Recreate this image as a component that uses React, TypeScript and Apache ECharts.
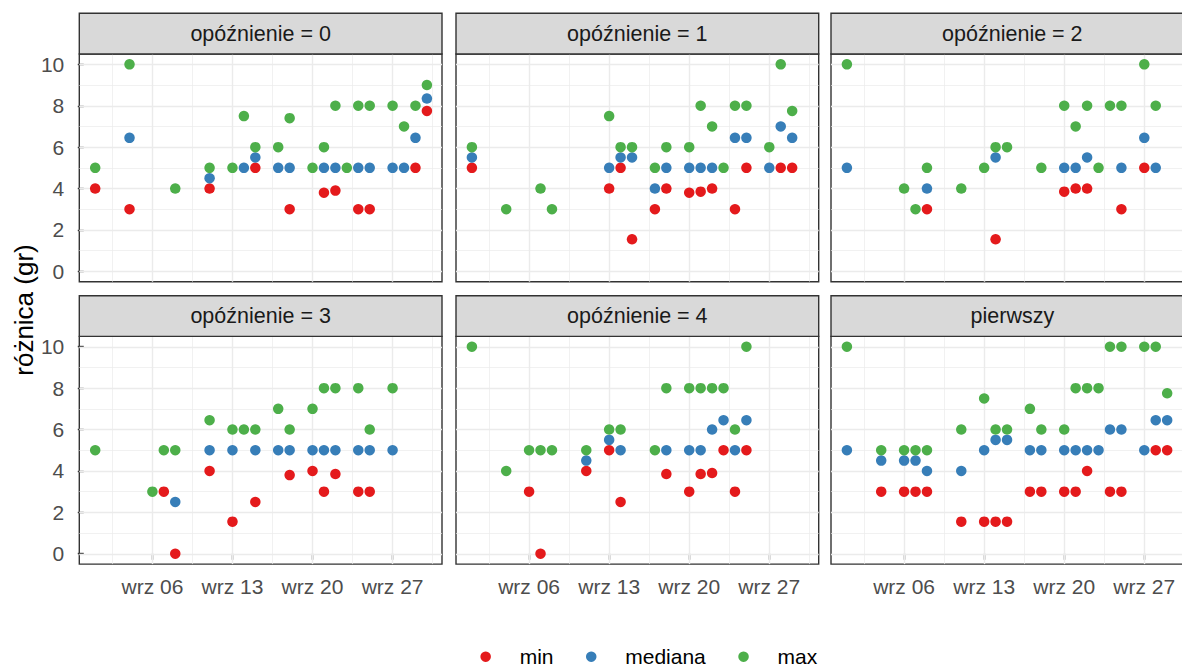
import React, { useEffect, useRef } from 'react';
import * as echarts from 'echarts';

// ---------- data ----------
const PANEL_TITLES = ['opóźnienie = 0', 'opóźnienie = 1', 'opóźnienie = 2', 'opóźnienie = 3', 'opóźnienie = 4', 'pierwszy'];
const SERIES_NAMES = ['min', 'mediana', 'max'];
const SERIES_COLORS = ['#E41A1C', '#377EB8', '#4DAF4A'];

const X_TICK_DAYS = [6, 13, 20, 27];
const X_TICK_LABELS = ['wrz 06', 'wrz 13', 'wrz 20', 'wrz 27'];
const X_MINOR_DAYS = [2.5, 9.5, 16.5, 23.5, 30.5];
const Y_TICKS = [0, 2, 4, 6, 8, 10];
const Y_MINOR = [1, 3, 5, 7, 9];
const Y_TITLE = 'różnica (gr)';

// [day of September, value]
const lag0Min = [[1, 4], [4, 3], [11, 4], [15, 5], [18, 3], [21, 3.8], [22, 3.9], [24, 3], [25, 3], [29, 5], [30, 7.75]];
const lag0Med = [[4, 6.45], [11, 4.5], [14, 5], [15, 5.5], [17, 5], [18, 5], [21, 5], [22, 5], [24, 5], [25, 5], [27, 5], [28, 5], [29, 6.45], [30, 8.35]];
const lag0Max = [[1, 5], [4, 10], [8, 4], [11, 5], [13, 5], [14, 7.5], [15, 6], [17, 6], [18, 7.4], [20, 5], [21, 6], [22, 8], [23, 5], [24, 8], [25, 8], [27, 8], [28, 7], [29, 8], [30, 9]];

const lag1Min = [[1, 5], [13, 4], [14, 5], [15, 1.55], [17, 3], [18, 4], [20, 3.8], [21, 3.85], [22, 4], [24, 3], [25, 5], [28, 5], [29, 5]];
const lag1Med = [[1, 5.5], [13, 5], [14, 5.5], [15, 5.5], [17, 4], [18, 5], [20, 5], [21, 5], [22, 5], [24, 6.45], [25, 6.45], [27, 5], [28, 7], [29, 6.45]];
const lag1Max = [[1, 6], [4, 3], [7, 4], [8, 3], [13, 7.5], [14, 6], [15, 6], [17, 5], [18, 6], [20, 6], [21, 8], [22, 7], [23, 5], [24, 8], [25, 8], [27, 6], [28, 10], [29, 7.75]];

const lag2Min = [[8, 3], [14, 1.55], [20, 3.85], [21, 4], [22, 4], [25, 3], [27, 5]];
const lag2Med = [[1, 5], [8, 4], [14, 5.5], [20, 5], [21, 5], [22, 5.5], [25, 5], [27, 6.45], [28, 5]];
const lag2Max = [[1, 10], [6, 4], [7, 3], [8, 5], [11, 4], [13, 5], [14, 6], [15, 6], [18, 5], [20, 8], [21, 7], [22, 8], [23, 5], [24, 8], [25, 8], [27, 10], [28, 8]];

const lag3Min = [[7, 3], [8, 0], [11, 4], [13, 1.55], [15, 2.5], [18, 3.8], [20, 4], [21, 3], [22, 3.85], [24, 3], [25, 3]];
const lag3Med = [[8, 2.5], [11, 5], [13, 5], [15, 5], [17, 5], [18, 5], [20, 5], [21, 5], [22, 5], [24, 5], [25, 5], [27, 5]];
const lag3Max = [[1, 5], [6, 3], [7, 5], [8, 5], [11, 6.45], [13, 6], [14, 6], [15, 6], [17, 7], [18, 6], [20, 7], [21, 8], [22, 8], [24, 8], [25, 6], [27, 8]];

const lag4Min = [[6, 3], [7, 0], [11, 4], [13, 5], [14, 2.5], [18, 3.85], [20, 3], [21, 3.85], [22, 3.9], [23, 5], [24, 3], [25, 5]];
const lag4Med = [[11, 4.5], [13, 5.5], [14, 5], [18, 5], [20, 5], [21, 5], [22, 6], [23, 6.45], [24, 5], [25, 6.45]];
const lag4Max = [[1, 10], [4, 4], [6, 5], [7, 5], [8, 5], [11, 5], [13, 6], [14, 6], [17, 5], [18, 8], [20, 8], [21, 8], [22, 8], [23, 8], [24, 6], [25, 10]];

const firstMin = [[4, 3], [6, 3], [7, 3], [8, 3], [11, 1.55], [13, 1.55], [14, 1.55], [15, 1.55], [17, 3], [18, 3], [20, 3], [21, 3], [22, 4], [24, 3], [25, 3], [28, 5], [29, 5]];
const firstMed = [[1, 5], [4, 4.5], [6, 4.5], [7, 4.5], [8, 4], [11, 4], [13, 5], [14, 5.5], [15, 5.5], [17, 5], [18, 5], [20, 5], [21, 5], [22, 5], [23, 5], [24, 6], [25, 6], [27, 5], [28, 6.45], [29, 6.45]];
const firstMax = [[1, 10], [4, 5], [6, 5], [7, 5], [8, 5], [11, 6], [13, 7.5], [14, 6], [15, 6], [17, 7], [18, 6], [20, 6], [21, 8], [22, 8], [23, 8], [24, 10], [25, 10], [27, 10], [28, 10], [29, 7.75]];

const PANEL_DATA = [
  [lag0Min, lag0Med, lag0Max],
  [lag1Min, lag1Med, lag1Max],
  [lag2Min, lag2Med, lag2Max],
  [lag3Min, lag3Med, lag3Max],
  [lag4Min, lag4Med, lag4Max],
  [firstMin, firstMed, firstMax],
];

// ---------- layout ----------
const FONT = '"Liberation Sans", Arial, Helvetica, sans-serif';
const COL_LEFT = [79.3, 456, 831];
const PANEL_W = 362.7;
const STRIP_TOP = [13.3, 295.7];
const STRIP_H = 40.7;
const PANEL_H = 227.7;
const X_MIN = -0.39;
const X_MAX = 31.32;
const Y_MIN = -0.5;
const Y_MAX = 10.5;
const BORDER = '#333333';
const GRID_COLOR = '#EBEBEB';

export default function App() {
  const ref = useRef<HTMLDivElement>(null);

  useEffect(() => {
    const chart = echarts.init(ref.current!, null, { renderer: 'svg' });

    const grids: any[] = [];
    const xAxes: any[] = [];
    const yAxes: any[] = [];
    const series: any[] = [];
    const graphics: any[] = [];

    PANEL_TITLES.forEach((title, i) => {
      const col = i % 3;
      const row = Math.floor(i / 3);
      const left = COL_LEFT[col];
      const stripTop = STRIP_TOP[row];
      const top = stripTop + STRIP_H;

      grids.push({
        left,
        top,
        width: PANEL_W,
        height: PANEL_H,
        show: true,
        backgroundColor: '#ffffff',
        borderColor: BORDER,
        borderWidth: 1.4,
        containLabel: false,
        outerBoundsMode: 'none',
      });

      xAxes.push({
        type: 'value',
        gridIndex: i,
        min: X_MIN,
        max: X_MAX,
        axisLine: { show: false },
        axisTick: {
          show: row === 1,
          customValues: X_TICK_DAYS,
          length: 6,
          lineStyle: { color: BORDER, width: 1.4 },
        },
        axisLabel: {
          show: row === 1,
          customValues: X_TICK_DAYS,
          formatter: (v: number) => {
            const k = X_TICK_DAYS.indexOf(v);
            return k >= 0 ? X_TICK_LABELS[k] : '';
          },
          color: '#4D4D4D',
          fontSize: 21,
          fontFamily: FONT,
          margin: 12,
        },
        splitLine: { show: false },
      });

      yAxes.push({
        type: 'value',
        gridIndex: i,
        min: Y_MIN,
        max: Y_MAX,
        axisLine: { show: false },
        axisTick: {
          show: col === 0,
          customValues: Y_TICKS,
          length: 6,
          lineStyle: { color: BORDER, width: 1.4 },
        },
        axisLabel: {
          show: col === 0,
          customValues: Y_TICKS,
          color: '#4D4D4D',
          fontSize: 21,
          fontFamily: FONT,
          margin: 15,
        },
        splitLine: { show: false },
      });

      // background grid lines
      series.push({
        type: 'scatter',
        name: 'grid' + i,
        xAxisIndex: i,
        yAxisIndex: i,
        data: [],
        silent: true,
        z: 1,
        markLine: {
          silent: true,
          z: 1,
          symbol: ['none', 'none'],
          animation: false,
          label: { show: false },
          emphasis: { disabled: true },
          lineStyle: { color: GRID_COLOR, type: 'solid', width: 1.4 },
          data: [
            ...X_MINOR_DAYS.map((v) => ({ xAxis: v, lineStyle: { width: 0.7, color: GRID_COLOR, type: 'solid' } })),
            ...Y_MINOR.map((v) => ({ yAxis: v, lineStyle: { width: 0.7, color: GRID_COLOR, type: 'solid' } })),
            ...X_TICK_DAYS.map((v) => ({ xAxis: v })),
            ...Y_TICKS.map((v) => ({ yAxis: v })),
          ],
        },
      });

      PANEL_DATA[i].forEach((d, s) => {
        series.push({
          type: 'scatter',
          name: SERIES_NAMES[s],
          xAxisIndex: i,
          yAxisIndex: i,
          data: d,
          symbol: 'circle',
          symbolSize: 10.5,
          itemStyle: { color: SERIES_COLORS[s], opacity: 1 },
          emphasis: { disabled: true },
          z: 10,
        });
      });

      graphics.push({
        type: 'rect',
        shape: { x: left, y: stripTop, width: PANEL_W, height: STRIP_H },
        style: { fill: '#D9D9D9', stroke: BORDER, lineWidth: 1.4 },
        z: 5,
      });
      graphics.push({
        type: 'text',
        x: left + PANEL_W / 2,
        y: stripTop + STRIP_H / 2,
        style: {
          text: title,
          fill: '#1A1A1A',
          font: `21.5px ${FONT}`,
          textAlign: 'center',
          textVerticalAlign: 'middle',
          align: 'center',
          verticalAlign: 'middle',
        },
        z: 6,
      });
    });

    graphics.push({
      type: 'text',
      x: 24,
      y: 310,
      rotation: Math.PI / 2,
      style: {
        text: Y_TITLE,
        fill: '#000000',
        font: `26px ${FONT}`,
        textAlign: 'center',
        textVerticalAlign: 'middle',
        align: 'center',
        verticalAlign: 'middle',
      },
      z: 6,
    });

    const option: any = {
      animation: false,
      backgroundColor: '#ffffff',
      textStyle: { fontFamily: FONT },
      grid: grids,
      xAxis: xAxes,
      yAxis: yAxes,
      series,
      legend: {
        data: SERIES_NAMES,
        left: 480.4,
        top: 646.2,
        orient: 'horizontal',
        padding: 0,
        icon: 'circle',
        itemWidth: 58,
        itemHeight: 10.5,
        itemGap: 32.5,
        selectedMode: false,
        textStyle: { fontSize: 21, color: '#000000', fontFamily: FONT },
      },
      graphic: { elements: graphics },
    };

    chart.setOption(option);
    return () => chart.dispose();
  }, []);

  return (
    <div
      ref={ref}
      style={{ position: 'fixed', left: 0, top: 0, width: '1182px', height: '668px', background: '#ffffff' }}
    />
  );
}
